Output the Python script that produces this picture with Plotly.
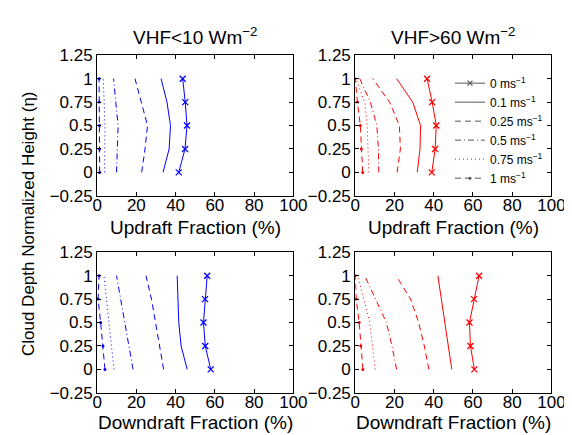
import plotly.graph_objects as go

eta = [0, 0.25, 0.5, 0.75, 1]
speeds = ["0", "0.1", "0.25", "0.5", "0.75", "1"]

# Updraft fraction (%), VHF<10
up_low = {
    "0":    [41.6, 44.8, 45.8, 44.9, 43.6],
    "0.1":  [33.6, 36.7, 37.4, 35.6, 32.6],
    "0.25": [22.7, 24.4, 25.7, 22.4, 19.3],
    "0.5":  [9.9, 10.4, 10.7, 9.5, 8.4],
    "0.75": [3.8, 4.0, 4.0, 3.6, 3.1],
    "1":    [1.3, 1.2, 1.2, 1.1, 1.0],
}
# Updraft fraction (%), VHF>60
up_high = {
    "0":    [39.0, 40.7, 41.3, 39.2, 36.6],
    "0.1":  [31.6, 33.0, 33.3, 29.3, 21.1],
    "0.25": [21.3, 23.0, 22.5, 17.5, 8.9],
    "0.5":  [12.0, 11.8, 11.0, 7.7, 2.3],
    "0.75": [6.9, 6.6, 6.1, 4.8, 0.3],
    "1":    [3.8, 3.1, 2.6, 1.1, 0.0],
}
# Downdraft fraction (%), VHF<10
down_low = {
    "0":    [57.9, 55.1, 54.2, 55.0, 56.1],
    "0.1":  [45.9, 42.8, 41.6, 41.3, 40.8],
    "0.25": [33.9, 31.8, 30.0, 27.7, 24.9],
    "0.5":  [18.3, 16.1, 14.2, 12.0, 9.9],
    "0.75": [8.6, 7.3, 5.9, 4.7, 3.5],
    "1":    [4.0, 3.0, 1.8, 0.5, 1.0],
}
# Downdraft fraction (%), VHF>60
down_high = {
    "0":    [60.7, 58.7, 58.2, 60.5, 63.1],
    "0.1":  [49.2, 47.4, 45.7, 44.1, 42.1],
    "0.25": [37.5, 35.2, 32.3, 28.2, 20.8],
    "0.5":  [21.1, 18.7, 15.9, 10.2, 4.8],
    "0.75": [10.2, 8.9, 7.4, 4.4, 1.1],
    "1":    [3.9, 2.8, 2.0, 0.5, 0.0],
}

x_ticks = [0, 20, 40, 60, 80, 100]
y_ticks = [-0.25, 0, 0.25, 0.5, 0.75, 1, 1.25]
y_ticktext = ["\u22120.25", "0", "0.25", "0.5", "0.75", "1", "1.25"]
titles = ["VHF<10 Wm<sup>\u22122</sup>", "VHF>60 Wm<sup>\u22122</sup>"]
x_titles = ["Updraft Fraction (%)", "Downdraft Fraction (%)"]
y_title = "Cloud Depth Normalized Height (\u03b7)"
legend_labels = ["0 ms<sup>\u22121</sup>", "0.1 ms<sup>\u22121</sup>", "0.25 ms<sup>\u22121</sup>",
                 "0.5 ms<sup>\u22121</sup>", "0.75 ms<sup>\u22121</sup>", "1 ms<sup>\u22121</sup>"]

dashes = {"0": "solid", "0.1": "solid", "0.25": "6px,4px", "0.5": "6px,3px,1px,3px",
          "0.75": "1px,3px", "1": "6px,4px"}

FONT = "Liberation Sans, Arial, sans-serif"
W, H = 572, 435

def px_x(a, b):
    return [a / W, b / W]

def px_y(top, bottom):
    return [1 - bottom / H, 1 - top / H]

xdoms = [px_x(87, 290), px_x(354, 557)]
ydoms = [px_y(40, 187), px_y(246, 393)]
xtitle_y = [220, 424]

fig = go.Figure()

panels = [
    (up_low, "rgb(0,0,255)", 0, 0),
    (up_high, "rgb(255,0,0)", 1, 0),
    (down_low, "rgb(0,0,255)", 0, 1),
    (down_high, "rgb(255,0,0)", 1, 1),
]

layout_axes = {}
for i, (data, color, col, row) in enumerate(panels):
    n = i + 1
    xa = "x" if n == 1 else f"x{n}"
    ya = "y" if n == 1 else f"y{n}"
    for s in speeds:
        mode = "lines"
        marker = None
        if s == "0":
            mode = "lines+markers"
            marker = dict(symbol="x-thin", size=6, line=dict(width=1.3, color=color), color=color)
        elif s == "1":
            mode = "lines+markers"
            marker = dict(symbol="circle", size=3, color=color)
        fig.add_trace(go.Scatter(
            x=data[s], y=eta, xaxis=xa, yaxis=ya, mode=mode,
            line=dict(color=color, width=1, dash=dashes[s]),
            marker=marker, showlegend=False, hoverinfo="skip",
        ))
    axcommon = dict(showline=True, linecolor="black", linewidth=1, mirror="ticks",
                    ticks="inside", ticklen=4, tickcolor="black", showgrid=False,
                    zeroline=False, tickfont=dict(family=FONT, size=17, color="black"))
    layout_axes["xaxis" if n == 1 else f"xaxis{n}"] = dict(
        domain=xdoms[col], anchor=ya, range=[0, 100], tickvals=x_ticks,
        ticklabelstandoff=-6, **axcommon)
    layout_axes["yaxis" if n == 1 else f"yaxis{n}"] = dict(
        domain=ydoms[row], anchor=xa, range=[-0.25, 1.25], tickvals=y_ticks,
        ticktext=y_ticktext, **axcommon)

# legend-only traces (gray)
gray = "rgb(85,85,85)"
for s, lab in zip(speeds, legend_labels):
    mode = "lines"
    marker = None
    if s == "0":
        mode = "lines+markers"
        marker = dict(symbol="x-thin", size=5, line=dict(width=1.2, color=gray), color=gray)
    elif s == "1":
        mode = "lines+markers"
        marker = dict(symbol="circle", size=3, color=gray)
    fig.add_trace(go.Scatter(
        x=[None], y=[None], xaxis="x2", yaxis="y2", mode=mode, name=lab,
        line=dict(color=gray, width=1, dash=dashes[s]), marker=marker, showlegend=True,
    ))

annotations = []
for col, t in enumerate(titles):
    annotations.append(dict(text=t, xref="paper", yref="paper",
                            x=sum(xdoms[col]) / 2, y=1 - 20 / H, xanchor="center", yanchor="middle",
                            showarrow=False, font=dict(family=FONT, size=19, color="black")))
for row in range(2):
    for col in range(2):
        annotations.append(dict(text=x_titles[row], xref="paper", yref="paper",
                                x=sum(xdoms[col]) / 2, y=1 - xtitle_y[row] / H,
                                xanchor="center", yanchor="middle", showarrow=False,
                                font=dict(family=FONT, size=19, color="black")))
annotations.append(dict(text=y_title, xref="paper", yref="paper",
                        x=16 / W, y=1 - 216 / H, xanchor="center", yanchor="middle", textangle=-90,
                        showarrow=False, font=dict(family=FONT, size=17, color="black")))

fig.update_layout(
    width=W, height=H, margin=dict(l=0, r=0, t=0, b=0),
    paper_bgcolor="white", plot_bgcolor="white",
    annotations=annotations,
    legend=dict(x=452 / W, y=1 - 54 / H, xanchor="left", yanchor="top",
                bgcolor="rgba(0,0,0,0)", borderwidth=0,
                font=dict(family=FONT, size=12, color="black"),
                tracegroupgap=0, itemwidth=30),
    **layout_axes,
)

fig.write_html("out.html")
